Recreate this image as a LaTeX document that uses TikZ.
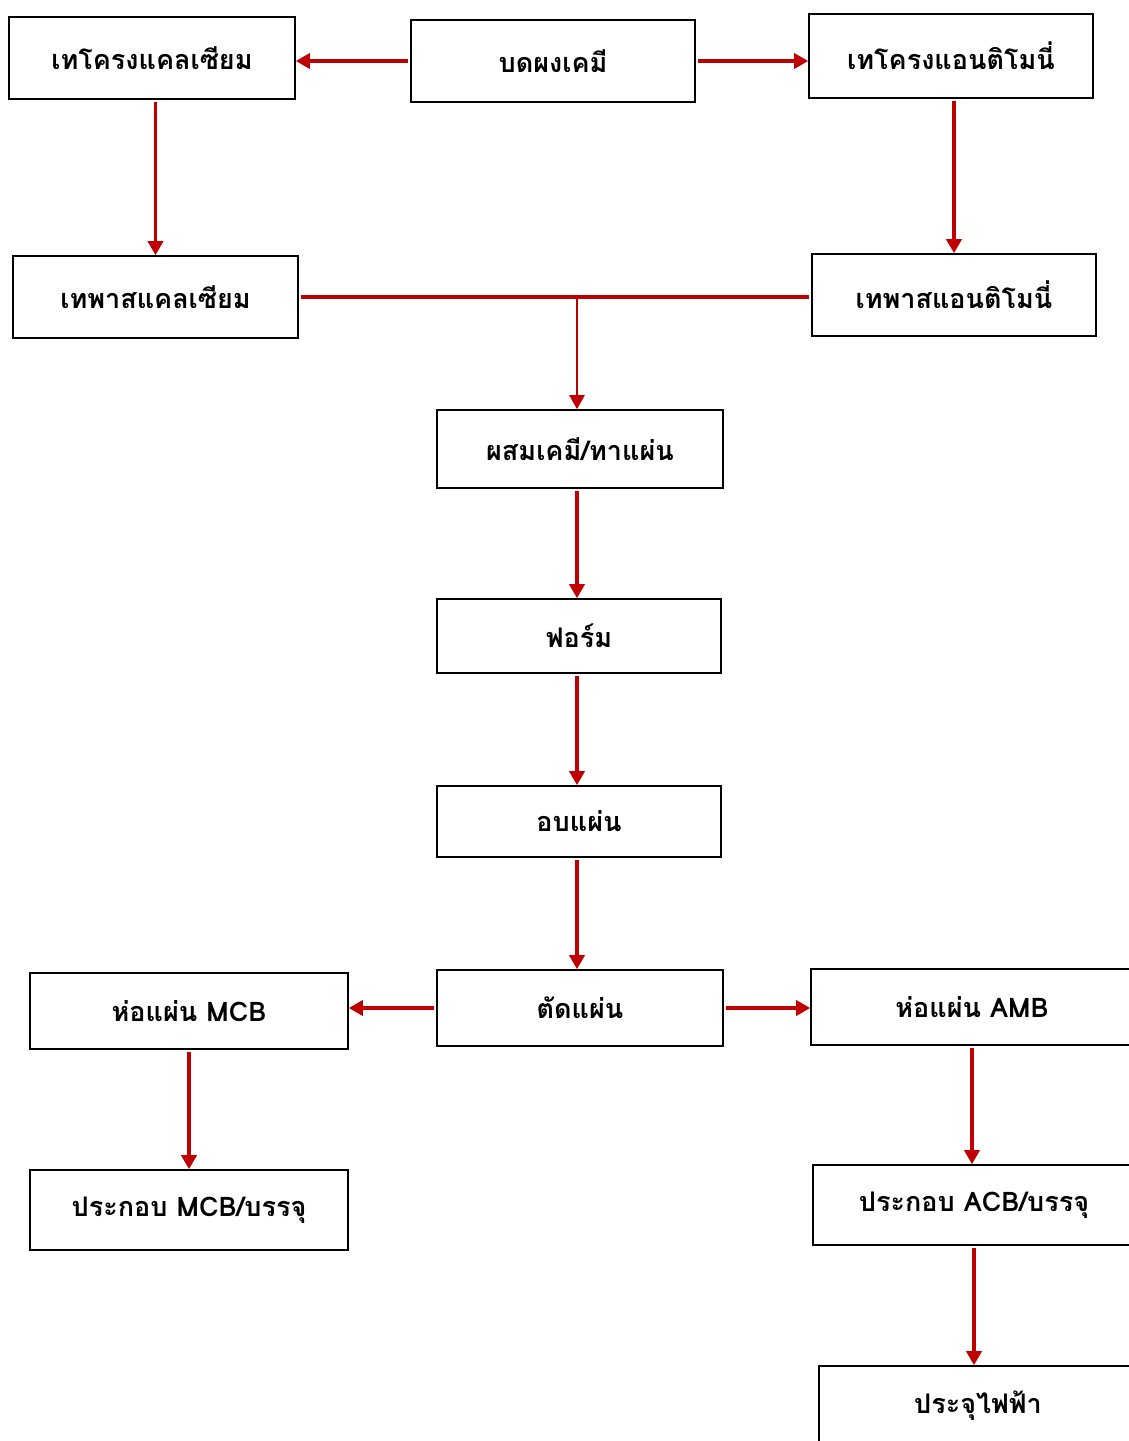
\documentclass[tikz,border=0pt]{standalone}
\usepackage{fontspec}
\newfontfamily\thaifont[Script=Thai]{Loma}
\usetikzlibrary{arrows.meta}
\definecolor{flowred}{HTML}{C00000}
\tikzset{
  blk/.style 2 args={draw=black, line width=1.6pt, fill=white, minimum width=#1, minimum height=#2, inner sep=0pt,
    font=\thaifont\bfseries\fontsize{27}{30}\selectfont},
  arr/.style={draw=flowred, line width=3.5pt, shorten <=2pt, -{Triangle[length=14pt,width=15pt]}},
}

\begin{document}
\begin{tikzpicture}[x=1pt,y=-1pt]
	\useasboundingbox (0,0) rectangle (1129,1441);
	\clip (0,0) rectangle (1129,1441);
	% top row
	\node[blk={286}{82}] (tkal) at (152,58) {เทโครงแคลเซียม};
	\node[blk={284}{82}] (grind) at (553,61) {บดผงเคมี};
	\node[blk={284}{84}] (tant) at (951,56) {เทโครงแอนติโมนี่};
	\node[blk={285}{82}] (pkal) at (155.5,297) {เทพาสแคลเซียม};
	\node[blk={284}{82}] (pant) at (954,295) {เทพาสแอนติโมนี่};
	% middle chain
	\node[blk={286}{78}] (mix) at (580,449) {ผสมเคมี/ทาแผ่น};
	\node[blk={284}{74}] (form) at (579,636) {ฟอร์ม};
	\node[blk={284}{71}] (bake) at (579,821.5) {อบแผ่น};
	\node[blk={286}{76}] (cut) at (580,1008) {ตัดแผ่น};
	% bottom branches
	\node[blk={318}{76}] (wmcb) at (189,1011) {ห่อแผ่น MCB};
	\node[blk={322}{76}] (wamb) at (972,1007) {ห่อแผ่น AMB};
	\node[blk={318}{80}] (amcb) at (189,1210) {ประกอบ MCB/บรรจุ};
	\node[blk={322}{80}] (aacb) at (974,1205) {ประกอบ ACB/บรรจุ};
	\node[blk={318}{80}] (chg) at (978,1406) {ประจุไฟฟ้า};
	\coordinate (jn) at (577,297);

	\draw[arr] (grind.west) -- (grind.west -| tkal.east);
	\draw[arr] (grind.east) -- (grind.east -| tant.west);
	\draw[arr] (pkal.north |- tkal.south) -- (pkal.north);
	\draw[arr] (pant.north |- tant.south) -- (pant.north);
	\draw[flowred, line width=3.5pt, shorten <=2pt, shorten >=2pt] (pkal.east) -- (pkal.east -| pant.west);
	\draw[arr, line width=2.5pt] (jn) -- (jn |- mix.north);
	\foreach \a/\b in {mix/form, form/bake, bake/cut}
		\draw[arr] (jn |- \a.south) -- (jn |- \b.north);
	\draw[arr] (cut.west) -- (cut.west -| wmcb.east);
	\draw[arr] (cut.east) -- (cut.east -| wamb.west);
	\draw[arr] (wmcb.south) -- (amcb.north);
	\draw[arr] (wamb.south) -- (wamb.south |- aacb.north);
	\draw[arr] (aacb.south) -- (aacb.south |- chg.north);
\end{tikzpicture}
\end{document}
